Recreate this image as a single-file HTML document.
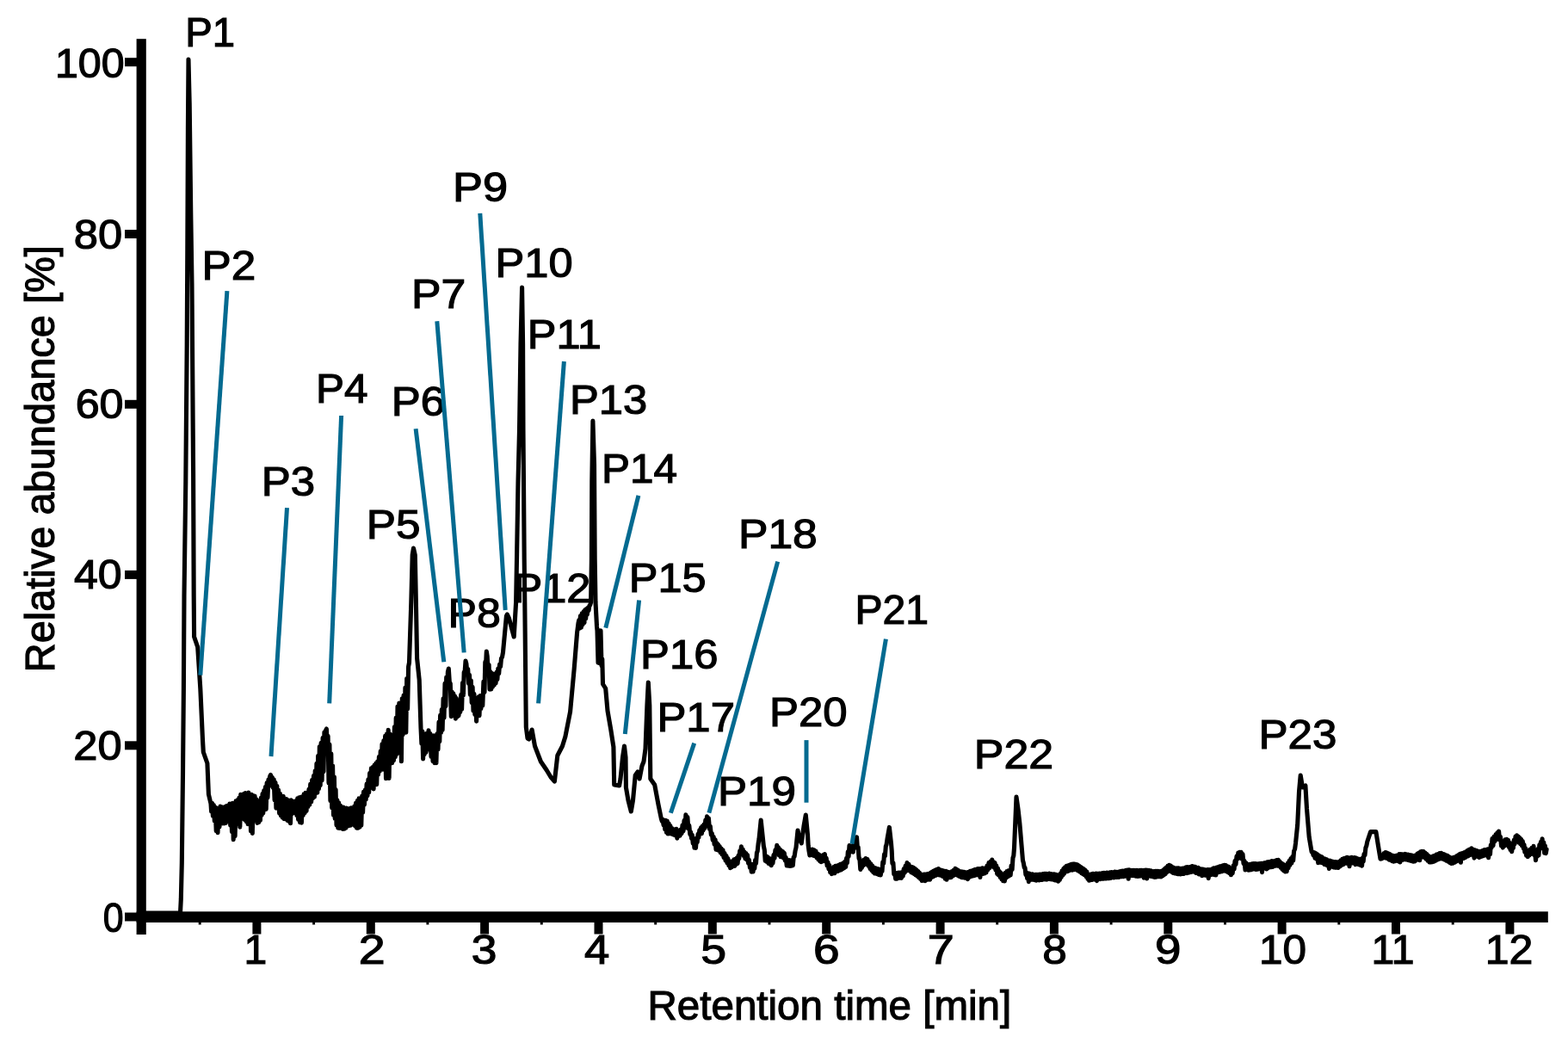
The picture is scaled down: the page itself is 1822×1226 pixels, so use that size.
<!DOCTYPE html>
<html><head><meta charset="utf-8"><style>
html,body{margin:0;padding:0;background:#fff;}
svg{display:block;}
text{font-family:"Liberation Sans",Arial,sans-serif;font-size:48px;fill:#000;stroke:#000;stroke-width:1.2px;}
</style></head><body>
<svg width="1822" height="1226" viewBox="0 0 1822 1226">
<rect width="1822" height="1226" fill="#fff"/>
<g fill="#000">
<rect x="158.6" y="45.2" width="11.2" height="1040.8"/>
<rect x="158.6" y="1059.3" width="1640.2" height="12.7"/>
<rect x="293.4" y="1065" width="10" height="20.5"/><rect x="425.8" y="1065" width="10" height="20.5"/><rect x="558.1" y="1065" width="10" height="20.5"/><rect x="690.5" y="1065" width="10" height="20.5"/><rect x="822.8" y="1065" width="10" height="20.5"/><rect x="955.2" y="1065" width="10" height="20.5"/><rect x="1087.6" y="1065" width="10" height="20.5"/><rect x="1219.9" y="1065" width="10" height="20.5"/><rect x="1352.3" y="1065" width="10" height="20.5"/><rect x="1484.6" y="1065" width="10" height="20.5"/><rect x="1617.0" y="1065" width="10" height="20.5"/><rect x="1749.4" y="1065" width="10" height="20.5"/><rect x="230.7" y="1065" width="3" height="9.5"/><rect x="363.1" y="1065" width="3" height="9.5"/><rect x="495.4" y="1065" width="3" height="9.5"/><rect x="627.8" y="1065" width="3" height="9.5"/><rect x="760.2" y="1065" width="3" height="9.5"/><rect x="892.5" y="1065" width="3" height="9.5"/><rect x="1024.9" y="1065" width="3" height="9.5"/><rect x="1157.2" y="1065" width="3" height="9.5"/><rect x="1289.6" y="1065" width="3" height="9.5"/><rect x="1422.0" y="1065" width="3" height="9.5"/><rect x="1554.3" y="1065" width="3" height="9.5"/><rect x="1686.7" y="1065" width="3" height="9.5"/>
<rect x="145" y="67.2" width="20" height="10"/><rect x="145" y="267.0" width="20" height="10"/><rect x="145" y="464.8" width="20" height="10"/><rect x="145" y="662.9" width="20" height="10"/><rect x="145" y="861.3" width="20" height="10"/><rect x="145" y="1060.5" width="20" height="10"/>
</g>
<g><text x="63.92" y="89.50" textLength="80.67" lengthAdjust="spacingAndGlyphs">100</text><text x="85.70" y="288.60" textLength="56.38" lengthAdjust="spacingAndGlyphs">80</text><text x="87.65" y="486.00" textLength="55.92" lengthAdjust="spacingAndGlyphs">60</text><text x="85.95" y="684.00" textLength="55.71" lengthAdjust="spacingAndGlyphs">40</text><text x="85.35" y="883.20" textLength="56.32" lengthAdjust="spacingAndGlyphs">20</text><text x="119.82" y="1083.20" textLength="23.85" lengthAdjust="spacingAndGlyphs">0</text><text x="296.8" y="1120.3" text-anchor="middle">1</text><text x="416.71" y="1120.30" textLength="30.89" lengthAdjust="spacingAndGlyphs">2</text><text x="547.87" y="1120.30" textLength="29.68" lengthAdjust="spacingAndGlyphs">3</text><text x="679.09" y="1120.30" textLength="29.25" lengthAdjust="spacingAndGlyphs">4</text><text x="814.15" y="1120.30" textLength="29.79" lengthAdjust="spacingAndGlyphs">5</text><text x="945.10" y="1120.30" textLength="30.61" lengthAdjust="spacingAndGlyphs">6</text><text x="1077.84" y="1120.30" textLength="31.07" lengthAdjust="spacingAndGlyphs">7</text><text x="1211.37" y="1120.30" textLength="28.56" lengthAdjust="spacingAndGlyphs">8</text><text x="1341.93" y="1120.30" textLength="30.46" lengthAdjust="spacingAndGlyphs">9</text><text x="1463.13" y="1120.30" textLength="55.00" lengthAdjust="spacingAndGlyphs">10</text><text x="1593.48" y="1120.30" textLength="49.91" lengthAdjust="spacingAndGlyphs">11</text><text x="1725.69" y="1120.30" textLength="55.62" lengthAdjust="spacingAndGlyphs">12</text></g>
<text x="752.50" y="1184.90" textLength="422.69" lengthAdjust="spacingAndGlyphs">Retention time [min]</text>
<text x="-781.25" y="63.20" textLength="496.00" lengthAdjust="spacingAndGlyphs" transform="rotate(-90)">Relative abundance [%]</text>
<path d="M168.0 1061.0 L209.5 1061.0 L210.3 1045.0 L211.3 1003.0 L212.5 900.0 L213.4 800.0 L214.0 693.0 L215.8 560.0 L217.2 400.0 L217.8 290.0 L218.4 150.0 L219.0 69.0 L220.2 120.0 L221.8 250.0 L223.0 330.0 L224.6 550.0 L225.2 693.0 L225.6 740.0 L229.7 752.0 L232.8 800.0 L235.5 860.0 L236.3 874.0 L240.9 887.0 L242.4 923.0 L245.0 934.0 L245.6 943.1 L246.5 933.2 L247.4 948.4 L248.4 935.5 L249.3 954.1 L250.2 938.1 L251.2 965.6 L252.1 939.0 L253.0 967.7 L254.0 939.7 L255.0 960.9 L256.0 937.1 L257.0 954.3 L257.9 937.8 L258.8 956.9 L259.7 938.4 L260.6 957.0 L261.5 937.6 L262.4 956.5 L263.3 936.5 L264.2 954.1 L265.1 936.1 L266.0 950.7 L266.9 934.0 L267.7 959.1 L268.6 934.1 L269.5 966.8 L270.4 933.2 L271.2 975.6 L272.1 934.0 L273.1 971.8 L274.1 930.7 L275.0 957.4 L276.0 929.7 L276.9 950.5 L277.8 927.3 L278.8 961.2 L279.7 923.2 L280.6 949.0 L281.5 923.4 L282.5 951.4 L283.4 922.6 L284.3 952.6 L285.2 921.5 L286.1 954.7 L287.1 924.7 L288.0 957.6 L288.9 921.1 L289.8 956.7 L290.6 923.0 L291.5 966.0 L292.4 923.3 L293.3 968.5 L294.2 924.6 L295.1 952.9 L296.1 925.0 L297.0 953.3 L297.9 928.8 L298.9 956.5 L299.8 930.8 L300.7 955.7 L301.6 931.3 L302.4 953.3 L303.3 927.3 L304.1 947.3 L305.0 922.6 L305.8 944.9 L306.7 918.7 L307.5 941.1 L308.4 914.6 L309.2 940.4 L310.1 909.8 L311.0 927.0 L311.9 906.1 L312.7 913.3 L313.6 902.3 L314.5 900.5 L315.4 905.6 L316.3 903.3 L317.2 915.2 L318.2 905.7 L319.1 929.8 L320.0 909.4 L320.9 939.2 L321.8 913.2 L322.7 938.4 L323.6 918.1 L324.6 945.1 L325.5 922.3 L326.4 947.9 L327.3 926.3 L328.2 950.1 L329.2 925.2 L330.1 951.6 L331.0 928.4 L332.0 951.1 L332.9 928.6 L333.8 953.5 L334.8 929.9 L335.7 954.4 L336.6 930.4 L337.5 956.8 L338.4 929.8 L339.2 945.8 L340.1 932.1 L341.0 941.1 L341.9 931.4 L342.9 944.7 L343.8 930.7 L344.8 947.5 L345.7 927.9 L346.6 952.4 L347.6 926.8 L348.5 955.7 L349.4 926.4 L350.4 956.2 L351.3 925.7 L352.3 947.5 L353.2 922.7 L354.2 944.6 L355.1 921.4 L356.1 942.4 L357.0 921.8 L357.9 937.5 L358.9 917.3 L359.8 935.2 L360.7 911.2 L361.7 931.8 L362.6 906.6 L363.5 927.6 L364.5 901.6 L365.4 926.3 L366.2 895.9 L367.1 921.6 L367.9 887.4 L368.8 921.3 L369.6 878.2 L370.5 916.8 L371.3 867.5 L372.2 912.7 L373.1 863.2 L374.1 906.9 L375.1 857.4 L376.0 896.7 L376.9 850.8 L377.7 870.7 L378.5 848.9 L379.4 847.0 L380.3 867.0 L381.1 855.3 L382.0 909.9 L382.9 865.1 L383.9 930.5 L384.8 875.8 L385.7 938.7 L386.6 889.7 L387.5 947.1 L388.4 902.9 L389.2 951.1 L390.1 917.5 L391.0 959.0 L391.9 929.8 L392.8 962.1 L393.7 932.9 L394.6 962.5 L395.5 936.1 L396.4 962.3 L397.3 937.8 L398.2 963.4 L399.1 938.1 L400.0 963.3 L400.9 940.2 L401.8 962.3 L402.7 939.0 L403.6 960.2 L404.5 940.3 L405.4 959.7 L406.3 939.6 L407.2 959.3 L408.1 938.7 L409.0 958.0 L409.9 939.5 L410.8 958.4 L411.7 937.1 L412.6 960.0 L413.5 933.3 L414.4 962.2 L415.3 930.6 L416.2 962.2 L417.1 927.9 L418.0 961.1 L418.9 928.0 L419.8 959.1 L420.7 925.1 L421.6 944.2 L422.5 920.3 L423.4 935.2 L424.3 918.0 L425.2 929.0 L426.1 911.1 L427.0 924.7 L427.9 905.8 L428.7 920.8 L429.6 898.6 L430.5 915.7 L431.4 892.9 L432.3 912.2 L433.2 891.5 L434.1 916.9 L435.0 889.3 L435.9 904.7 L436.8 887.1 L437.7 911.6 L438.6 885.0 L439.5 900.2 L440.4 879.5 L441.3 896.2 L442.2 873.1 L443.1 894.2 L444.0 864.7 L444.9 894.3 L445.8 860.8 L446.7 892.5 L447.6 855.2 L448.5 904.7 L449.4 852.7 L450.3 884.4 L451.2 848.4 L452.1 904.4 L453.0 852.9 L453.9 887.2 L454.8 854.1 L455.7 886.7 L456.6 856.6 L457.5 883.7 L458.4 844.9 L459.3 879.7 L460.2 834.1 L461.1 876.4 L462.0 820.8 L462.9 875.0 L463.8 817.1 L464.7 865.5 L465.6 817.3 L466.4 884.8 L467.3 811.9 L468.2 853.7 L469.1 807.7 L470.0 849.8 L470.9 799.0 L471.8 851.2 L472.7 788.3 L473.6 824.0 L474.6 774.7 L475.5 770.0 L477.8 700.0 L479.2 645.0 L480.5 637.0 L482.3 645.0 L483.4 700.0 L484.6 765.0 L487.2 790.0 L489.0 846.0 L489.9 864.3 L490.8 849.8 L491.6 881.9 L492.4 852.6 L493.2 876.7 L494.0 854.8 L495.0 874.3 L496.0 852.4 L497.0 867.9 L498.0 848.9 L499.0 871.2 L500.0 852.6 L501.0 879.5 L502.0 855.4 L503.0 884.7 L504.0 854.7 L504.9 886.6 L505.9 858.9 L506.9 886.7 L507.9 852.9 L509.0 871.0 L510.0 839.1 L510.8 861.6 L511.6 831.2 L512.5 851.5 L513.3 824.6 L514.1 848.5 L515.1 811.8 L516.0 834.1 L517.0 794.4 L517.9 820.6 L518.7 787.0 L519.6 799.0 L520.4 780.6 L521.3 777.0 L522.3 792.5 L523.3 794.4 L524.3 832.6 L525.1 803.7 L526.0 827.8 L526.8 805.9 L527.7 831.5 L528.5 808.8 L529.4 835.2 L530.3 811.4 L531.2 833.0 L532.1 815.2 L533.0 831.6 L533.9 819.5 L534.8 827.5 L535.7 807.3 L536.6 824.3 L537.5 793.6 L538.4 808.0 L539.2 781.0 L540.1 780.9 L541.0 768.0 L541.9 771.1 L542.8 781.5 L543.7 777.4 L544.6 794.3 L545.5 784.4 L546.4 807.4 L547.3 790.7 L548.2 816.6 L549.1 798.4 L550.0 826.2 L550.9 806.3 L551.8 830.4 L552.7 811.1 L553.6 838.2 L554.5 813.1 L555.3 830.6 L556.1 809.7 L557.0 831.7 L558.0 808.5 L558.9 823.5 L559.8 809.7 L560.8 819.9 L561.9 792.1 L563.0 804.4 L563.8 769.2 L564.5 773.8 L565.3 757.0 L566.2 762.7 L567.1 779.1 L568.1 772.4 L569.0 801.1 L569.9 780.6 L570.8 800.9 L571.6 782.2 L572.5 798.1 L573.4 784.2 L574.3 796.0 L575.2 783.0 L576.1 793.9 L577.0 781.4 L577.9 789.5 L578.8 777.0 L579.7 782.8 L580.6 772.0 L581.6 774.7 L582.5 765.1 L583.5 763.6 L584.5 758.0 L588.4 716.0 L589.4 714.0 L591.3 718.0 L597.2 740.0 L599.6 700.0 L600.5 650.0 L602.0 560.0 L603.5 500.0 L605.0 400.0 L606.6 334.0 L607.6 400.0 L608.0 500.0 L608.5 560.0 L609.2 650.0 L609.8 700.0 L611.3 845.0 L613.0 858.0 L614.7 859.0 L618.1 848.0 L621.5 867.0 L628.4 885.0 L635.2 895.0 L640.0 903.0 L644.4 908.0 L647.8 878.0 L653.5 867.0 L656.9 856.0 L662.6 827.0 L667.2 777.0 L670.6 735.0 L672.0 724.0 L672.8 720.5 L673.5 730.1 L674.4 715.8 L675.4 729.1 L676.3 712.7 L677.2 725.7 L678.1 710.8 L679.0 723.5 L679.8 708.7 L680.7 718.8 L681.5 707.5 L682.3 714.1 L683.2 706.3 L684.0 709.5 L684.9 703.9 L685.7 703.1 L686.6 700.0 L687.4 650.0 L687.8 560.0 L688.9 489.0 L690.5 540.0 L691.2 650.0 L692.0 700.0 L693.5 728.0 L694.0 732.9 L695.0 770.3 L696.0 732.6 L697.0 771.0 L698.0 732.7 L699.0 773.6 L699.8 765.8 L700.5 795.0 L703.7 800.0 L706.0 826.0 L709.8 848.0 L712.9 868.0 L713.7 912.0 L719.6 913.0 L721.0 905.0 L723.5 880.0 L725.5 867.0 L727.0 880.0 L727.4 915.0 L730.0 930.0 L733.3 943.0 L735.5 930.0 L738.2 901.0 L741.0 897.0 L743.1 905.0 L746.0 890.0 L748.0 885.0 L750.0 870.0 L751.9 820.0 L753.3 793.0 L754.8 820.0 L755.8 905.0 L760.7 912.0 L765.0 935.0 L768.5 952.0 L769.3 954.3 L770.2 952.3 L771.0 958.8 L771.9 953.2 L772.7 963.7 L773.6 953.2 L774.4 967.4 L775.3 954.1 L776.2 969.0 L777.1 956.7 L778.0 968.7 L778.9 959.5 L779.7 968.7 L780.6 962.3 L781.4 969.4 L782.3 964.9 L783.2 970.2 L784.1 963.9 L785.1 971.0 L786.0 963.4 L786.8 974.1 L787.6 964.7 L788.5 971.6 L789.3 965.9 L790.1 971.2 L791.1 964.0 L792.1 968.6 L793.0 959.0 L794.0 965.9 L795.0 953.6 L796.0 962.2 L796.9 946.7 L797.9 956.4 L798.9 949.6 L799.8 962.9 L800.8 959.3 L801.8 969.4 L802.6 966.9 L803.5 974.3 L804.3 970.2 L805.2 979.9 L806.0 974.7 L806.9 985.2 L807.7 977.7 L808.5 985.4 L809.4 973.9 L810.2 978.7 L811.1 969.3 L811.9 973.3 L812.8 964.8 L813.6 967.3 L814.5 961.8 L815.4 968.7 L816.2 960.0 L817.1 965.0 L818.0 958.0 L818.9 962.4 L819.8 953.0 L820.6 960.0 L821.5 948.9 L822.4 956.9 L823.4 950.7 L824.4 963.2 L825.3 960.1 L826.3 969.9 L827.3 968.5 L828.2 976.1 L829.2 972.5 L830.1 981.3 L831.1 975.7 L832.0 987.2 L832.9 979.6 L833.7 987.7 L834.5 981.4 L835.4 988.3 L836.2 983.4 L837.1 990.7 L838.1 985.9 L839.0 992.9 L840.0 987.8 L841.0 996.4 L842.0 991.6 L843.0 999.9 L844.0 994.5 L844.9 1002.6 L845.8 997.6 L846.8 1005.7 L847.7 1000.8 L848.6 1008.6 L849.5 1001.8 L850.3 1007.7 L851.1 1000.7 L852.0 1006.2 L852.9 998.9 L853.7 1006.5 L854.5 998.3 L855.4 1004.5 L856.2 997.0 L857.1 1003.5 L858.0 994.2 L858.8 997.8 L859.7 988.7 L860.5 992.5 L861.4 983.8 L862.3 991.6 L863.2 987.0 L864.1 994.4 L865.0 989.9 L865.9 997.6 L866.8 991.4 L867.6 999.0 L868.5 993.5 L869.5 1003.1 L870.4 999.3 L871.4 1008.1 L872.3 1003.9 L873.2 1013.1 L874.2 1009.2 L875.1 1013.0 L875.9 1004.1 L876.8 1009.4 L877.6 999.5 L878.5 1003.4 L879.4 991.1 L880.2 989.2 L881.1 980.5 L882.0 975.0 L884.2 953.0 L886.5 975.0 L887.4 983.5 L888.3 987.6 L889.2 1000.4 L890.2 994.7 L891.1 1001.4 L892.0 995.7 L893.0 1003.3 L893.8 997.6 L894.6 1004.1 L895.5 998.1 L896.3 1005.7 L897.1 999.6 L898.0 1003.0 L899.0 993.5 L900.0 997.2 L900.9 987.9 L901.8 991.9 L902.8 982.3 L903.7 989.9 L904.5 984.7 L905.4 993.9 L906.2 986.7 L907.1 995.7 L907.9 988.6 L908.8 995.6 L909.6 989.5 L910.5 997.2 L911.3 991.3 L912.3 1000.0 L913.2 996.5 L914.2 1005.9 L915.2 999.6 L916.1 1006.2 L917.0 999.5 L918.0 1006.5 L918.8 1000.0 L919.6 1006.3 L920.5 999.5 L921.3 1005.8 L922.2 996.0 L923.1 995.4 L924.1 988.7 L925.0 985.0 L927.0 965.0 L929.0 975.0 L931.3 979.9 L934.0 960.0 L936.3 947.0 L938.5 970.0 L939.2 982.4 L939.9 988.2 L940.9 994.0 L942.0 987.2 L943.0 993.0 L944.0 987.0 L945.0 994.2 L946.0 987.8 L947.0 994.8 L948.0 989.0 L949.0 996.7 L950.0 992.0 L950.8 998.7 L951.7 993.1 L952.5 1000.6 L953.4 994.3 L954.2 1001.7 L955.0 994.5 L955.9 1000.9 L956.7 993.5 L957.6 999.5 L958.4 992.5 L959.3 1000.9 L960.2 997.2 L961.1 1006.0 L962.0 1002.0 L962.9 1009.8 L963.8 1005.5 L964.7 1013.8 L965.6 1009.7 L966.5 1015.6 L967.4 1008.7 L968.2 1014.0 L969.1 1007.3 L970.0 1014.8 L970.9 1006.4 L971.9 1012.6 L972.8 1006.1 L973.7 1012.5 L974.7 1005.4 L975.6 1011.5 L976.5 1004.4 L977.4 1010.9 L978.3 1003.8 L979.2 1009.7 L980.0 1002.9 L980.9 1008.8 L981.8 1001.3 L982.7 1007.4 L983.6 997.3 L984.4 1002.7 L985.3 989.7 L986.1 995.4 L987.0 982.5 L987.9 989.1 L988.7 983.1 L989.6 989.7 L990.4 983.8 L991.3 990.2 L992.1 981.1 L993.0 985.5 L993.8 976.6 L994.7 981.5 L995.5 972.7 L996.4 985.4 L997.2 984.6 L998.1 997.8 L998.9 997.7 L999.8 1010.4 L1000.6 1002.8 L1001.4 1008.5 L1002.2 1001.0 L1003.0 1006.0 L1004.0 999.0 L1005.0 1004.6 L1006.0 997.6 L1007.0 1003.3 L1008.0 998.5 L1009.0 1006.2 L1010.0 1001.6 L1011.0 1009.5 L1011.9 1003.7 L1012.8 1011.4 L1013.7 1006.1 L1014.6 1013.4 L1015.5 1008.1 L1016.4 1015.0 L1017.3 1008.8 L1018.2 1015.2 L1019.1 1009.4 L1020.0 1016.0 L1020.8 1009.8 L1021.6 1016.7 L1022.5 1010.5 L1023.3 1016.9 L1024.1 1011.0 L1025.0 1012.6 L1025.8 1001.8 L1026.7 1003.4 L1027.5 992.9 L1028.4 994.7 L1029.3 983.7 L1030.1 981.4 L1031.0 975.0 L1033.4 961.4 L1035.5 980.0 L1036.2 988.4 L1036.9 1003.5 L1037.9 1002.6 L1038.8 1015.8 L1039.8 1014.9 L1040.6 1021.1 L1041.5 1014.6 L1042.3 1021.1 L1043.2 1014.3 L1044.0 1020.4 L1044.9 1014.1 L1045.7 1020.1 L1046.6 1014.0 L1047.4 1020.5 L1048.3 1013.5 L1049.2 1018.1 L1050.2 1009.7 L1051.2 1014.3 L1052.1 1006.2 L1053.0 1012.3 L1054.0 1002.6 L1055.0 1010.3 L1056.0 1004.3 L1057.0 1011.9 L1058.0 1007.0 L1058.8 1013.6 L1059.6 1007.5 L1060.4 1014.5 L1061.2 1008.0 L1062.2 1015.6 L1063.1 1009.2 L1064.1 1016.9 L1065.0 1010.8 L1066.0 1018.1 L1066.9 1012.5 L1067.7 1019.8 L1068.6 1014.3 L1069.5 1021.3 L1070.3 1016.2 L1071.2 1023.4 L1072.1 1016.4 L1073.1 1023.2 L1074.0 1016.0 L1075.0 1023.7 L1075.9 1016.1 L1076.9 1022.2 L1077.8 1015.5 L1078.8 1022.1 L1079.7 1015.4 L1080.6 1022.2 L1081.5 1014.1 L1082.3 1019.7 L1083.2 1013.1 L1084.1 1018.9 L1085.0 1012.0 L1085.9 1017.9 L1086.9 1011.1 L1087.8 1017.2 L1088.8 1010.2 L1089.7 1015.6 L1090.6 1009.6 L1091.5 1016.9 L1092.3 1010.8 L1093.2 1017.1 L1094.1 1011.3 L1095.0 1018.1 L1095.8 1011.9 L1096.7 1018.8 L1097.5 1012.2 L1098.3 1021.3 L1099.2 1012.3 L1100.0 1022.2 L1100.9 1013.0 L1101.7 1019.4 L1102.6 1013.5 L1103.4 1019.7 L1104.3 1013.8 L1105.2 1019.6 L1106.2 1012.6 L1107.2 1018.0 L1108.1 1011.2 L1109.0 1016.9 L1110.0 1009.3 L1110.9 1016.1 L1111.7 1010.2 L1112.6 1017.3 L1113.4 1011.4 L1114.3 1018.1 L1115.1 1012.5 L1116.0 1018.9 L1116.8 1012.7 L1117.7 1019.6 L1118.5 1013.0 L1119.4 1019.6 L1120.2 1013.4 L1121.1 1020.2 L1122.0 1013.8 L1122.8 1020.3 L1123.7 1013.7 L1124.6 1021.6 L1125.5 1013.2 L1126.4 1019.4 L1127.3 1012.3 L1128.2 1018.6 L1129.1 1012.1 L1130.0 1018.1 L1130.9 1011.4 L1131.8 1017.8 L1132.7 1010.6 L1133.5 1017.1 L1134.4 1010.2 L1135.3 1016.8 L1136.2 1009.6 L1137.1 1016.0 L1138.0 1009.6 L1138.9 1019.5 L1139.7 1009.5 L1140.6 1015.3 L1141.5 1008.8 L1142.4 1015.4 L1143.2 1009.3 L1144.1 1015.0 L1145.0 1008.7 L1146.0 1013.9 L1147.0 1006.1 L1148.0 1010.8 L1149.0 1002.5 L1150.0 1008.6 L1150.9 1001.4 L1151.8 1007.0 L1152.8 999.1 L1153.6 1006.5 L1154.4 1001.4 L1155.2 1008.1 L1156.0 1002.5 L1156.9 1010.9 L1157.8 1005.9 L1158.7 1015.4 L1159.5 1009.0 L1160.4 1017.0 L1161.3 1012.4 L1162.2 1019.4 L1163.0 1014.3 L1163.9 1021.6 L1164.7 1016.0 L1165.6 1023.6 L1166.5 1015.7 L1167.4 1023.9 L1168.2 1014.4 L1169.1 1020.2 L1170.0 1012.6 L1170.8 1018.9 L1171.7 1011.8 L1172.5 1017.9 L1173.4 1011.6 L1174.2 1017.1 L1175.1 1006.0 L1176.1 1010.5 L1177.0 996.8 L1177.8 994.5 L1178.5 985.6 L1180.0 950.0 L1181.0 926.0 L1183.0 940.0 L1184.9 957.1 L1188.5 999.9 L1189.3 1002.7 L1190.2 1008.0 L1191.0 1008.3 L1191.9 1016.4 L1192.7 1014.0 L1193.6 1020.7 L1194.5 1014.7 L1195.3 1024.6 L1196.2 1015.0 L1197.1 1022.1 L1198.0 1015.9 L1198.9 1022.3 L1199.8 1015.7 L1200.7 1022.3 L1201.5 1016.6 L1202.4 1022.7 L1203.3 1016.2 L1204.2 1023.1 L1205.0 1016.3 L1205.9 1022.7 L1206.8 1016.3 L1207.6 1022.9 L1208.5 1016.0 L1209.3 1022.4 L1210.2 1016.1 L1211.0 1022.5 L1211.9 1015.5 L1212.8 1021.9 L1213.8 1015.3 L1214.7 1022.0 L1215.6 1015.4 L1216.6 1022.1 L1217.5 1015.5 L1218.4 1021.5 L1219.3 1015.0 L1220.3 1021.6 L1221.2 1015.6 L1222.1 1021.9 L1223.1 1015.9 L1224.0 1022.1 L1224.9 1015.7 L1225.9 1023.0 L1226.8 1016.3 L1227.8 1023.1 L1228.7 1016.8 L1229.7 1024.2 L1230.6 1017.8 L1231.4 1022.5 L1232.3 1015.0 L1233.2 1019.5 L1234.0 1012.1 L1234.9 1017.1 L1235.8 1009.6 L1236.6 1015.2 L1237.5 1007.7 L1238.4 1012.9 L1239.3 1006.4 L1240.3 1012.7 L1241.2 1005.8 L1242.1 1011.9 L1243.1 1005.1 L1244.0 1011.0 L1245.0 1004.3 L1245.9 1011.1 L1246.9 1004.0 L1247.9 1010.7 L1248.8 1004.0 L1249.8 1010.1 L1250.7 1004.5 L1251.5 1011.2 L1252.4 1005.1 L1253.3 1012.3 L1254.1 1006.3 L1255.0 1013.2 L1255.9 1007.4 L1256.8 1014.6 L1257.7 1008.8 L1258.5 1015.8 L1259.4 1009.8 L1260.3 1016.8 L1261.2 1011.3 L1262.1 1018.6 L1262.9 1013.1 L1263.8 1021.2 L1264.6 1015.9 L1265.5 1023.3 L1266.4 1016.4 L1267.3 1022.8 L1268.2 1015.9 L1269.1 1022.5 L1270.0 1015.4 L1270.9 1021.9 L1271.8 1015.6 L1272.8 1022.1 L1273.7 1015.0 L1274.6 1023.6 L1275.5 1015.2 L1276.4 1021.2 L1277.4 1015.1 L1278.3 1021.6 L1279.2 1015.1 L1280.1 1021.2 L1281.1 1014.5 L1282.0 1021.3 L1282.9 1014.4 L1283.7 1020.9 L1284.6 1014.7 L1285.5 1021.0 L1286.3 1014.1 L1287.2 1020.6 L1288.1 1014.2 L1288.9 1020.7 L1289.8 1013.7 L1290.7 1020.4 L1291.7 1013.6 L1292.6 1019.8 L1293.5 1013.7 L1294.4 1020.0 L1295.4 1013.0 L1296.3 1019.4 L1297.2 1013.2 L1298.1 1019.4 L1299.1 1013.2 L1300.0 1019.4 L1300.9 1012.8 L1301.9 1018.8 L1302.8 1012.4 L1303.7 1018.7 L1304.7 1012.1 L1305.6 1018.6 L1306.5 1012.0 L1307.5 1018.3 L1308.4 1011.2 L1309.3 1017.5 L1310.3 1011.0 L1311.2 1021.3 L1312.1 1010.9 L1313.0 1017.4 L1313.9 1011.4 L1314.8 1017.5 L1315.7 1011.4 L1316.6 1017.6 L1317.5 1011.2 L1318.4 1017.7 L1319.3 1011.5 L1320.2 1018.3 L1321.1 1011.4 L1322.0 1018.4 L1322.9 1011.9 L1323.8 1018.2 L1324.7 1011.4 L1325.5 1017.9 L1326.4 1011.4 L1327.3 1017.7 L1328.2 1011.6 L1329.1 1020.1 L1329.9 1011.4 L1330.8 1017.6 L1331.7 1011.0 L1332.6 1020.9 L1333.5 1011.2 L1334.4 1017.9 L1335.4 1011.4 L1336.3 1018.2 L1337.2 1011.8 L1338.2 1018.5 L1339.1 1012.4 L1340.0 1018.9 L1340.9 1012.6 L1341.8 1019.5 L1342.7 1012.3 L1343.6 1019.1 L1344.5 1012.3 L1345.5 1018.7 L1346.4 1012.4 L1347.3 1018.8 L1348.2 1012.5 L1349.1 1018.9 L1350.0 1012.2 L1350.9 1017.9 L1351.7 1011.0 L1352.6 1016.7 L1353.4 1009.6 L1354.3 1015.5 L1355.2 1008.0 L1356.0 1013.6 L1356.9 1006.3 L1357.7 1012.5 L1358.6 1005.3 L1359.5 1012.0 L1360.4 1006.1 L1361.3 1013.3 L1362.3 1007.5 L1363.2 1014.4 L1364.1 1008.2 L1365.0 1014.9 L1365.9 1009.2 L1366.7 1015.2 L1367.6 1008.9 L1368.5 1015.7 L1369.3 1008.9 L1370.2 1015.8 L1371.1 1009.2 L1371.9 1016.0 L1372.8 1009.3 L1373.7 1015.5 L1374.6 1009.1 L1375.5 1015.5 L1376.4 1008.8 L1377.3 1014.5 L1378.2 1007.9 L1379.1 1014.6 L1380.0 1007.5 L1380.9 1014.3 L1381.8 1007.7 L1382.7 1013.7 L1383.5 1007.3 L1384.4 1013.5 L1385.3 1006.6 L1386.2 1013.0 L1387.1 1007.0 L1388.0 1013.2 L1388.9 1007.3 L1389.7 1014.5 L1390.6 1008.4 L1391.5 1014.8 L1392.4 1008.4 L1393.2 1015.9 L1394.1 1009.5 L1395.0 1016.0 L1395.9 1010.1 L1396.8 1017.6 L1397.8 1010.0 L1398.7 1016.4 L1399.6 1010.6 L1400.5 1017.2 L1401.4 1010.9 L1402.4 1017.3 L1403.3 1010.6 L1404.2 1020.6 L1405.1 1010.5 L1405.9 1017.1 L1406.8 1010.5 L1407.7 1016.5 L1408.5 1009.7 L1409.4 1016.3 L1410.3 1008.9 L1411.1 1016.6 L1412.0 1008.7 L1412.9 1016.9 L1413.8 1008.0 L1414.7 1014.1 L1415.6 1007.6 L1416.5 1013.4 L1417.4 1006.9 L1418.3 1013.1 L1419.2 1006.6 L1420.1 1012.8 L1421.0 1005.7 L1421.9 1012.0 L1422.8 1005.2 L1423.6 1012.2 L1424.5 1005.6 L1425.3 1012.6 L1426.2 1006.8 L1427.0 1013.6 L1427.9 1007.3 L1428.7 1014.8 L1429.6 1008.9 L1430.4 1016.8 L1431.3 1011.0 L1432.2 1014.8 L1433.2 1005.9 L1434.1 1009.9 L1435.0 1000.5 L1436.0 1004.5 L1437.0 995.1 L1438.0 998.1 L1438.8 991.1 L1439.7 997.3 L1440.5 990.4 L1441.3 996.2 L1442.2 990.3 L1443.1 998.2 L1444.0 992.5 L1445.0 1003.5 L1446.0 1000.5 L1447.0 1011.0 L1448.0 1002.7 L1448.9 1010.3 L1449.9 1004.8 L1450.8 1011.2 L1451.6 1004.6 L1452.5 1010.9 L1453.3 1004.4 L1454.2 1010.7 L1455.0 1003.8 L1455.9 1009.9 L1456.8 1003.6 L1457.7 1010.0 L1458.6 1003.5 L1459.5 1010.5 L1460.4 1003.8 L1461.3 1010.3 L1462.2 1003.9 L1463.0 1009.8 L1463.9 1003.6 L1464.8 1009.9 L1465.7 1003.2 L1466.5 1013.6 L1467.4 1003.2 L1468.3 1009.2 L1469.1 1002.7 L1470.0 1009.0 L1470.9 1002.6 L1471.8 1009.9 L1472.6 1001.7 L1473.5 1008.6 L1474.4 1001.5 L1475.2 1007.6 L1476.1 1001.2 L1477.0 1007.7 L1477.9 1000.5 L1478.9 1007.4 L1479.8 1000.7 L1480.8 1006.5 L1481.7 1000.4 L1482.7 1006.1 L1483.6 999.5 L1484.6 1006.1 L1485.5 999.2 L1486.4 1006.5 L1487.2 1001.2 L1488.1 1008.1 L1489.0 1002.9 L1489.9 1010.1 L1490.8 1004.0 L1491.6 1011.8 L1492.5 1006.0 L1493.4 1013.0 L1494.3 1005.2 L1495.2 1012.7 L1496.2 1003.3 L1497.1 1008.7 L1498.0 1000.5 L1498.9 1005.5 L1499.9 997.8 L1500.8 1003.1 L1501.8 995.5 L1502.7 1000.0 L1503.6 989.0 L1504.6 986.8 L1505.5 980.0 L1507.7 958.5 L1509.5 920.0 L1511.2 901.0 L1513.5 915.0 L1516.9 913.0 L1518.5 940.0 L1521.2 972.8 L1524.1 989.9 L1525.1 990.1 L1526.0 993.7 L1527.0 990.6 L1528.0 997.1 L1528.9 991.4 L1529.8 998.2 L1530.8 992.8 L1531.7 1002.8 L1532.6 994.0 L1533.5 1000.5 L1534.4 995.2 L1535.2 1002.4 L1536.1 995.9 L1537.0 1003.0 L1537.9 997.5 L1538.9 1004.4 L1539.8 998.0 L1540.7 1005.0 L1541.7 998.8 L1542.6 1005.9 L1543.5 999.9 L1544.4 1009.5 L1545.3 1000.1 L1546.2 1006.6 L1547.1 1000.7 L1548.0 1007.2 L1548.9 1001.2 L1549.7 1007.9 L1550.6 1001.7 L1551.4 1008.1 L1552.3 1001.6 L1553.1 1008.3 L1554.0 1002.7 L1555.0 1008.5 L1556.0 1001.3 L1557.0 1006.9 L1558.0 999.9 L1558.9 1005.4 L1559.8 998.2 L1560.8 1004.7 L1561.7 997.6 L1562.6 1003.0 L1563.5 997.0 L1564.4 1003.3 L1565.3 996.4 L1566.2 1002.9 L1567.1 996.9 L1568.0 1006.7 L1568.9 996.7 L1569.7 1003.0 L1570.6 996.4 L1571.4 1003.0 L1572.3 996.9 L1573.1 1002.9 L1574.0 996.5 L1575.0 1004.7 L1576.0 997.1 L1577.0 1004.0 L1578.0 998.0 L1578.9 1004.7 L1579.8 998.2 L1580.8 1005.3 L1581.7 999.4 L1582.6 1006.1 L1583.4 996.9 L1584.2 1000.9 L1585.0 992.5 L1586.0 993.8 L1586.9 985.2 L1587.8 983.1 L1588.8 978.0 L1592.6 966.6 L1598.9 966.6 L1601.5 983.0 L1604.0 998.2 L1604.8 996.8 L1605.7 997.7 L1606.5 994.1 L1607.3 997.1 L1608.2 991.5 L1609.0 996.2 L1609.9 990.6 L1610.7 997.2 L1611.6 991.1 L1612.4 997.7 L1613.3 991.7 L1614.1 999.1 L1615.0 992.6 L1615.9 999.5 L1616.8 993.8 L1617.7 1000.6 L1618.6 994.2 L1619.5 1001.1 L1620.4 994.9 L1621.3 1000.7 L1622.3 994.4 L1623.2 1000.1 L1624.1 993.7 L1625.1 1001.0 L1626.0 992.6 L1626.9 1002.0 L1627.8 992.6 L1628.6 999.1 L1629.5 992.8 L1630.4 999.3 L1631.2 992.8 L1632.1 998.6 L1633.0 992.4 L1633.8 998.9 L1634.7 992.9 L1635.5 999.3 L1636.3 993.0 L1637.2 999.8 L1638.0 993.6 L1638.8 1000.2 L1639.7 993.8 L1640.5 1000.8 L1641.4 994.3 L1642.2 1001.3 L1643.1 994.6 L1644.1 1001.0 L1645.1 993.9 L1646.0 999.4 L1647.0 992.1 L1648.0 998.5 L1648.9 991.0 L1649.7 999.8 L1650.6 989.9 L1651.5 996.5 L1652.3 989.2 L1653.2 995.2 L1654.2 989.5 L1655.1 996.5 L1656.1 991.1 L1657.0 998.1 L1658.0 992.4 L1659.0 1000.3 L1660.0 994.4 L1661.0 1002.0 L1662.0 995.9 L1662.9 1002.0 L1663.7 995.6 L1664.6 1001.7 L1665.4 994.8 L1666.3 1001.2 L1667.1 994.3 L1668.0 1000.3 L1669.0 993.1 L1669.9 999.3 L1670.9 992.5 L1671.8 998.5 L1672.8 991.6 L1673.7 998.0 L1674.7 991.2 L1675.6 998.0 L1676.5 992.2 L1677.4 998.5 L1678.3 992.7 L1679.2 999.3 L1680.1 993.7 L1681.0 1000.3 L1681.9 994.2 L1682.8 1001.3 L1683.7 995.6 L1684.6 1002.5 L1685.5 996.4 L1686.4 1003.5 L1687.3 997.6 L1688.3 1003.2 L1689.2 996.4 L1690.2 1002.3 L1691.1 995.7 L1692.1 1001.2 L1693.0 994.5 L1694.0 1000.3 L1694.8 993.5 L1695.7 999.8 L1696.5 992.4 L1697.4 1002.3 L1698.2 991.9 L1699.1 997.7 L1699.9 991.2 L1700.8 997.4 L1701.6 990.6 L1702.5 996.8 L1703.3 989.8 L1704.2 995.5 L1705.0 988.6 L1705.8 994.9 L1706.7 987.6 L1707.5 993.9 L1708.3 986.8 L1709.2 993.2 L1710.0 985.9 L1711.0 993.1 L1712.0 987.2 L1713.0 997.1 L1714.0 987.7 L1715.0 994.7 L1716.0 988.5 L1716.9 995.4 L1717.9 989.2 L1718.9 996.4 L1719.8 989.6 L1720.6 995.7 L1721.5 989.1 L1722.4 995.1 L1723.3 988.4 L1724.1 994.4 L1725.0 987.5 L1725.9 994.0 L1726.9 987.5 L1727.8 993.4 L1728.7 986.7 L1729.6 996.8 L1730.6 986.4 L1731.5 992.8 L1732.3 982.0 L1733.2 984.8 L1734.0 974.5 L1735.0 982.7 L1736.0 972.3 L1737.0 977.8 L1738.0 969.7 L1738.9 975.6 L1739.8 967.8 L1740.7 973.4 L1741.6 966.0 L1742.5 975.9 L1743.5 972.5 L1744.5 982.9 L1745.4 980.0 L1746.3 985.1 L1747.1 977.7 L1748.0 983.3 L1748.9 975.9 L1749.8 982.2 L1750.8 975.2 L1751.7 981.6 L1752.5 976.2 L1753.4 984.4 L1754.2 979.3 L1755.0 987.5 L1755.9 982.1 L1756.7 989.8 L1757.5 981.1 L1758.4 985.6 L1759.2 976.3 L1760.1 980.7 L1761.0 972.1 L1761.8 976.1 L1762.6 970.7 L1763.4 977.5 L1764.2 971.9 L1765.0 979.1 L1765.9 973.6 L1766.7 980.7 L1767.6 975.3 L1768.4 982.7 L1769.3 977.6 L1770.2 985.7 L1771.0 981.4 L1771.8 990.2 L1772.7 985.7 L1773.6 994.3 L1774.4 989.8 L1775.3 995.6 L1776.2 988.3 L1777.1 994.0 L1778.0 987.0 L1779.0 992.6 L1780.0 985.4 L1781.0 990.6 L1782.0 983.3 L1782.8 993.5 L1783.7 990.6 L1784.5 999.8 L1785.4 991.3 L1786.2 995.3 L1787.1 986.5 L1788.0 993.9 L1788.8 981.9 L1789.6 986.5 L1790.5 978.4 L1791.3 982.7 L1792.1 974.7 L1792.9 983.7 L1793.8 978.9 L1794.6 991.3 L1795.4 982.9 L1796.3 991.6 L1797.1 987.1" fill="none" stroke="#000" stroke-width="5.1" stroke-linejoin="round" stroke-linecap="round"/>
<g><text x="215.32" y="53.70" textLength="57.78" lengthAdjust="spacingAndGlyphs">P1</text><text x="234.60" y="324.50" textLength="62.68" lengthAdjust="spacingAndGlyphs">P2</text><text x="303.82" y="576.30" textLength="62.32" lengthAdjust="spacingAndGlyphs">P3</text><text x="367.14" y="468.20" textLength="60.51" lengthAdjust="spacingAndGlyphs">P4</text><text x="425.79" y="626.10" textLength="62.76" lengthAdjust="spacingAndGlyphs">P5</text><text x="454.82" y="483.00" textLength="62.32" lengthAdjust="spacingAndGlyphs">P6</text><text x="478.06" y="358.40" textLength="63.24" lengthAdjust="spacingAndGlyphs">P7</text><text x="520.59" y="729.00" textLength="61.29" lengthAdjust="spacingAndGlyphs">P8</text><text x="526.10" y="233.60" textLength="64.08" lengthAdjust="spacingAndGlyphs">P9</text><text x="575.55" y="322.00" textLength="90.03" lengthAdjust="spacingAndGlyphs">P10</text><text x="612.83" y="405.10" textLength="86.03" lengthAdjust="spacingAndGlyphs">P11</text><text x="596.45" y="699.80" textLength="89.99" lengthAdjust="spacingAndGlyphs">P12</text><text x="662.04" y="481.10" textLength="90.19" lengthAdjust="spacingAndGlyphs">P13</text><text x="698.94" y="560.80" textLength="88.01" lengthAdjust="spacingAndGlyphs">P14</text><text x="730.76" y="687.80" textLength="89.76" lengthAdjust="spacingAndGlyphs">P15</text><text x="744.14" y="777.00" textLength="90.29" lengthAdjust="spacingAndGlyphs">P16</text><text x="763.43" y="849.70" textLength="90.53" lengthAdjust="spacingAndGlyphs">P17</text><text x="857.96" y="636.90" textLength="91.88" lengthAdjust="spacingAndGlyphs">P18</text><text x="834.00" y="935.60" textLength="91.02" lengthAdjust="spacingAndGlyphs">P19</text><text x="893.92" y="843.80" textLength="90.67" lengthAdjust="spacingAndGlyphs">P20</text><text x="993.45" y="724.90" textLength="85.60" lengthAdjust="spacingAndGlyphs">P21</text><text x="1131.84" y="892.80" textLength="92.37" lengthAdjust="spacingAndGlyphs">P22</text><text x="1462.41" y="870.00" textLength="90.94" lengthAdjust="spacingAndGlyphs">P23</text></g>
<g stroke="#036a90" stroke-width="5" stroke-linecap="butt"><line x1="263.9" y1="338.2" x2="232.8" y2="784.7"/><line x1="333.5" y1="590.1" x2="315" y2="879"/><line x1="396.6" y1="483" x2="382.7" y2="817.4"/><line x1="483.1" y1="498.2" x2="515.8" y2="769.3"/><line x1="507.8" y1="373.3" x2="539.2" y2="758.4"/><line x1="557.8" y1="247.9" x2="587.2" y2="709"/><line x1="655.4" y1="420" x2="625.6" y2="817.4"/><line x1="741.9" y1="575.8" x2="703.8" y2="729.6"/><line x1="742.6" y1="697.5" x2="726.3" y2="853"/><line x1="806.7" y1="863.6" x2="779.4" y2="944.7"/><line x1="903.7" y1="652.6" x2="823.9" y2="944.7"/><line x1="937" y1="860.1" x2="937" y2="932.7"/><line x1="1029.4" y1="742.7" x2="990" y2="980.7"/></g>
</svg>
</body></html>
